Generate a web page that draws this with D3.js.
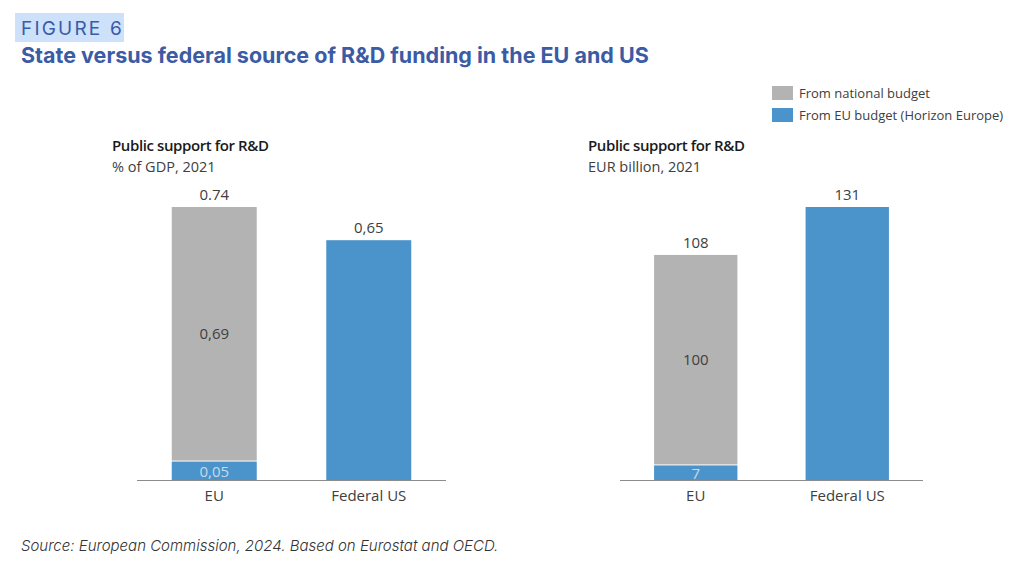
<!DOCTYPE html>
<html>
<head>
<meta charset="utf-8">
<script src="https://cdn.jsdelivr.net/npm/d3@7"></script>
<style>
  body { margin: 0; background: #fff; }
  text { font-family: "Open Sans", sans-serif; }
</style>
</head>
<body>
<svg id="chart"></svg>
<script>
const categories = ["EU", "Federal US"];
const series = ["From national budget", "From EU budget (Horizon Europe)"];
const colors = ["#b3b3b3", "#4a94cb"];

// left panel: % of GDP, 2021
const gdpNational = [0.69, 0];
const gdpEU = [0.05, 0];
const gdpTotal = [0.74, 0.65];
const gdpLabels = { total: ["0.74", "0,65"], national: ["0,69", null], eu: ["0,05", null] };

// right panel: EUR billion, 2021
const eurNational = [100, 0];
const eurEU = [7, 0];
const eurTotal = [108, 131];
const eurLabels = { total: ["108", "131"], national: ["100", null], eu: ["7", null] };

const size = { width: 1024, height: 567 };
const baseY = 480;
const topY = 207;

const svg = d3.select("#chart").attr("width", size.width).attr("height", size.height);

// header
svg.append("rect").attr("x", 15).attr("y", 13).attr("width", 109).attr("height", 29).attr("fill", "#cde1fb");
svg.append("text").text("FIGURE 6")
  .attr("x", 21).attr("y", 35)
  .style("font-family", "Inter, sans-serif").style("font-size", "19px")
  .style("letter-spacing", "2.2px").attr("fill", "#3b5ba5");
svg.append("text").text("State versus federal source of R&D funding in the EU and US")
  .attr("x", 21).attr("y", 63)
  .style("font-family", "Inter, sans-serif").style("font-size", "21.5px").style("font-weight", 700)
  .attr("fill", "#3b5ba5");

// legend
series.forEach((s, i) => {
  svg.append("rect").attr("x", 772).attr("y", 86 + i * 22).attr("width", 21).attr("height", 14).attr("fill", colors[i]);
  svg.append("text").text(s).attr("x", 799).attr("y", 98 + i * 22)
    .style("font-size", "13px").attr("fill", "#404040");
});

function panel(opts) {
  const g = svg.append("g");
  const x = d3.scaleBand().domain(categories).range(opts.xRange).paddingInner(0.45).paddingOuter(0.225);
  const y = d3.scaleLinear().domain([0, d3.max(opts.total)]).range([baseY, topY]);

  g.append("text").text("Public support for R&D").attr("x", opts.titleX).attr("y", 151)
    .style("font-size", "15px").style("font-weight", 600).style("letter-spacing", "-0.4px").attr("fill", "#1a1a1a");
  g.append("text").text(opts.unit).attr("x", opts.titleX).attr("y", 172)
    .style("font-size", "14.5px").attr("fill", "#404040");

  categories.forEach((c, i) => {
    const bx = x(c), bw = x.bandwidth();
    if (opts.eu[i] > 0) {
      // stacked EU bar: EU budget at bottom, national on top up to the total
      g.append("rect").attr("x", bx).attr("width", bw)
        .attr("y", y(opts.eu[i])).attr("height", baseY - y(opts.eu[i])).attr("fill", colors[1]);
      g.append("rect").attr("x", bx).attr("width", bw)
        .attr("y", y(opts.total[i])).attr("height", y(opts.eu[i]) - y(opts.total[i]) - 1).attr("fill", colors[0]);
      g.append("text").text(opts.labels.national[i]).attr("x", bx + bw / 2)
        .attr("y", (y(opts.total[i]) + y(opts.eu[i])) / 2 + 5).attr("text-anchor", "middle")
        .style("font-size", "15px").attr("fill", "#404040");
      g.append("text").text(opts.labels.eu[i]).attr("x", bx + bw / 2)
        .attr("y", (baseY + y(opts.eu[i])) / 2 + 6).attr("text-anchor", "middle")
        .style("font-size", "15px").attr("fill", "#c9d9e8");
    } else {
      g.append("rect").attr("x", bx).attr("width", bw)
        .attr("y", y(opts.total[i])).attr("height", baseY - y(opts.total[i])).attr("fill", colors[1]);
    }
    g.append("text").text(opts.labels.total[i]).attr("x", bx + bw / 2).attr("y", y(opts.total[i]) - 7)
      .attr("text-anchor", "middle").style("font-size", "15px").attr("fill", "#404040");
  });

  g.append("line").attr("x1", opts.xRange[0]).attr("x2", opts.xRange[1])
    .attr("y1", baseY + 0.5).attr("y2", baseY + 0.5).attr("stroke", "#8c8c8c").attr("stroke-width", 1);

  const axis = g.append("g").attr("transform", `translate(0, ${baseY})`)
    .call(d3.axisBottom(x).tickSize(0).tickPadding(10));
  axis.select(".domain").remove();
  axis.selectAll("text").style("font-size", "15px").style("font-family", "Open Sans, sans-serif").attr("fill", "#404040");
}

panel({ xRange: [137, 446], titleX: 112, unit: "% of GDP, 2021",
  national: gdpNational, eu: gdpEU, total: gdpTotal, labels: gdpLabels });
panel({ xRange: [620, 923], titleX: 588, unit: "EUR billion, 2021",
  national: eurNational, eu: eurEU, total: eurTotal, labels: eurLabels });

svg.append("text").text("Source: European Commission, 2024. Based on Eurostat and OECD.")
  .attr("x", 21).attr("y", 551)
  .style("font-family", "Inter, sans-serif").style("font-size", "15px").style("font-style", "italic")
  .style("font-weight", 300).attr("fill", "#333");
</script>
</body>
</html>
